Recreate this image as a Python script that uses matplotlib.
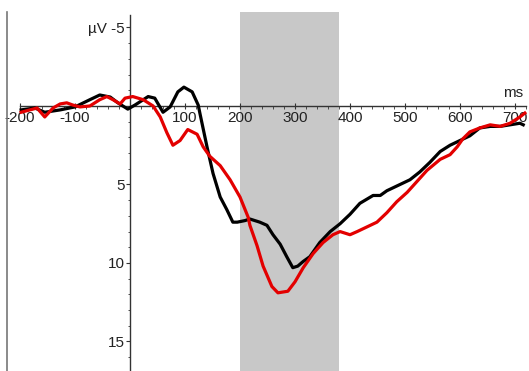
import matplotlib
matplotlib.use('Agg')
import matplotlib.pyplot as plt
import numpy as np
from matplotlib.lines import Line2D

plt.rcParams['font.family'] = ['Liberation Sans Narrow', 'Liberation Sans', 'DejaVu Sans']
plt.rcParams['font.size'] = 11

# ERP waveforms (ms, µV; negative is plotted up)
t_black = [-198, -173, -155, -127, -100, -73, -55, -36, -22, -4, 9, 33, 45, 60, 73, 87, 98,
           113, 124, 127, 140, 151, 164, 176, 187, 195, 209, 218, 236, 249, 260, 273, 285,
           296, 305, 315, 327, 345, 364, 382, 400, 418, 442, 455, 467, 491, 509, 527, 545,
           564, 582, 600, 618, 636, 655, 673, 691, 709, 715]
v_black = [0.25, 0.13, 0.4, 0.25, 0.06, -0.4, -0.7, -0.57, -0.2, 0.2, -0.06, -0.6, -0.5, 0.4,
           0.06, -0.9, -1.2, -0.9, -0.06, 0.45, 2.6, 4.3, 5.8, 6.6, 7.4, 7.4, 7.3, 7.2, 7.4,
           7.6, 8.2, 8.8, 9.6, 10.3, 10.2, 9.9, 9.6, 8.7, 8.0, 7.5, 6.9, 6.2, 5.7, 5.7, 5.4,
           5.0, 4.7, 4.2, 3.6, 2.9, 2.5, 2.2, 1.9, 1.4, 1.3, 1.3, 1.2, 1.1, 1.2]

t_red = [-198, -182, -169, -155, -140, -127, -115, -104, -91, -73, -55, -42, -31, -18, -9, 5,
         24, 42, 55, 67, 78, 91, 105, 122, 133, 145, 164, 182, 200, 215, 218, 231, 242, 258,
         269, 287, 300, 315, 333, 351, 369, 382, 400, 413, 431, 449, 467, 485, 504, 522, 540,
         564, 582, 595, 605, 618, 636, 655, 673, 691, 709, 718]
v_red = [0.4, 0.25, 0.13, 0.7, 0.13, -0.13, -0.2, -0.06, 0.06, 0.0, -0.4, -0.6, -0.4, -0.13,
         -0.5, -0.6, -0.4, 0.0, 0.7, 1.7, 2.5, 2.2, 1.5, 1.8, 2.6, 3.2, 3.8, 4.7, 5.8, 7.1,
         7.6, 8.9, 10.2, 11.5, 11.9, 11.8, 11.2, 10.3, 9.4, 8.7, 8.2, 8.0, 8.2, 8.0, 7.7,
         7.4, 6.8, 6.1, 5.5, 4.8, 4.1, 3.4, 3.1, 2.6, 2.1, 1.65, 1.4, 1.2, 1.3, 1.1, 0.7, 0.45]

window = (200, 380)
xticks = [-200, -100, 100, 200, 300, 400, 500, 600, 700]
yticks = [-5, 5, 10, 15]
ytick_labels = ['µV -5', '5', '10', '15']

fig = plt.figure(figsize=(5.29, 3.71), dpi=100)
ax = fig.add_axes([0, 0, 1, 1])
ax.patch.set_alpha(0)

ax.axvspan(window[0], window[1], ymin=0, ymax=0.968, color='#c8c8c8', lw=0, zorder=0)

ax.plot(t_black, v_black, color='black', lw=2.3, zorder=3)
ax.plot(t_red, v_red, color='#e30000', lw=2.3, zorder=4)

ax.set_xlim(-236.4, 725.5)
ax.set_ylim(16.88, -6.75)

for s in ['top', 'right']:
    ax.spines[s].set_visible(False)
ax.spines['left'].set_position(('data', 0))
ax.spines['bottom'].set_position(('data', 0))
ax.spines['left'].set_bounds(-5.8, 16.88)
ax.spines['bottom'].set_bounds(-200, 720)
for s in ['left', 'bottom']:
    ax.spines[s].set_color('#333333')
    ax.spines[s].set_linewidth(1.0)
    ax.spines[s].set_zorder(2)

ax.set_xticks(xticks)
ax.set_xticklabels([str(x) for x in xticks])
ax.set_xticks(np.arange(-200, 721, 20), minor=True)
ax.set_yticks(yticks)
ax.set_yticklabels(ytick_labels)
ax.set_yticks(np.arange(-5, 17, 1), minor=True)
ax.tick_params(axis='x', which='major', direction='inout', length=5, pad=1, colors='#333333', labelcolor='#222222')
ax.tick_params(axis='x', which='minor', direction='out', length=2, colors='#333333')
ax.tick_params(axis='y', which='major', direction='out', length=3, pad=1, colors='#333333', labelcolor='#222222')
ax.tick_params(axis='y', which='minor', direction='out', length=1.5, colors='#333333')

ax.text(696, -0.83, 'ms', ha='center', va='center', color='#222222')

# left frame line
fig.add_artist(Line2D([7 / 529, 7 / 529], [0, 1 - 12 / 371], transform=fig.transFigure,
                      color='#777777', lw=1.2))

fig.savefig('out.png', dpi=100)
